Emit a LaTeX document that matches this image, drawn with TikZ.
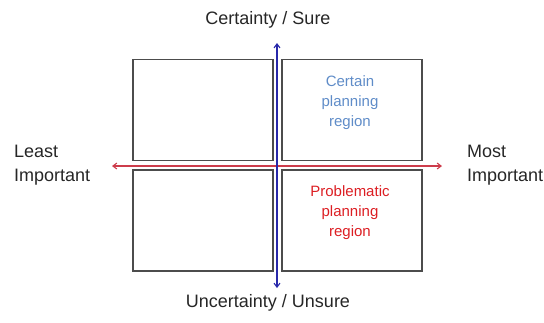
\documentclass[tikz,border=0pt]{standalone}
\usepackage{fontspec}
\setmainfont{Liberation Sans}
\usepackage{tikz}
\usetikzlibrary{arrows.meta}
\definecolor{axisblue}{RGB}{40,40,170}
\definecolor{axisred}{RGB}{205,60,75}
\definecolor{certblue}{RGB}{95,140,200}
\definecolor{probred}{RGB}{220,30,35}
\tikzset{
  quad/.style={draw=black!70, line width=1.2pt, minimum width=140pt, minimum height=101pt, inner sep=0pt},
  axislabel/.style={font=\fontsize{18}{24}\selectfont, text=black!85, inner sep=0pt},
  regionlabel/.style={font=\fontsize{15}{20}\selectfont, align=center, inner sep=0pt}
}
\begin{document}
\begin{tikzpicture}[x=1pt,y=-1pt]
    \useasboundingbox (0,0) rectangle (544,322);
    % Quadrants
    \node[quad] (tl) at (203, 110) {};
    \node[quad] (tr) at (352, 110) {};
    \node[quad] (bl) at (203, 220.5) {};
    \node[quad] (br) at (352, 220.5) {};
    % Region Labels
    \node[regionlabel, text=certblue] (certain) at (350, 103) {Certain\\planning\\region};
    \node[regionlabel, text=probred] (problem) at (350, 213) {Problematic\\planning\\region};
    % Axis Ends
    \coordinate (up) at (277, 43);
    \coordinate (down) at (277, 288);
    \coordinate (left) at (112, 166);
    \coordinate (right) at (442, 166);
    % Axes
    \draw[axisred, line width=1.1pt, -{Straight Barb[length=4pt,width=6pt]}] (277, 166) -- (left);
    \draw[axisred, line width=1.1pt, -{Straight Barb[length=4pt,width=6pt]}] (277, 166) -- (right);
    \draw[axisblue, line width=1.1pt, -{Straight Barb[length=4pt,width=6pt]}] (277, 166) -- (up);
    \draw[axisblue, line width=1.1pt, -{Straight Barb[length=4pt,width=6pt]}] (277, 166) -- (down);
    % Axis Labels
    \node[axislabel] (sure) at (268, 20) {Certainty / Sure};
    \node[axislabel] (unsure) at (268, 303) {Uncertainty / Unsure};
    \node[axislabel, align=left, anchor=west] (least) at (14, 165) {Least\\Important};
    \node[axislabel, align=left, anchor=west] (most) at (467, 165) {Most\\Important};
\end{tikzpicture}
\end{document}
